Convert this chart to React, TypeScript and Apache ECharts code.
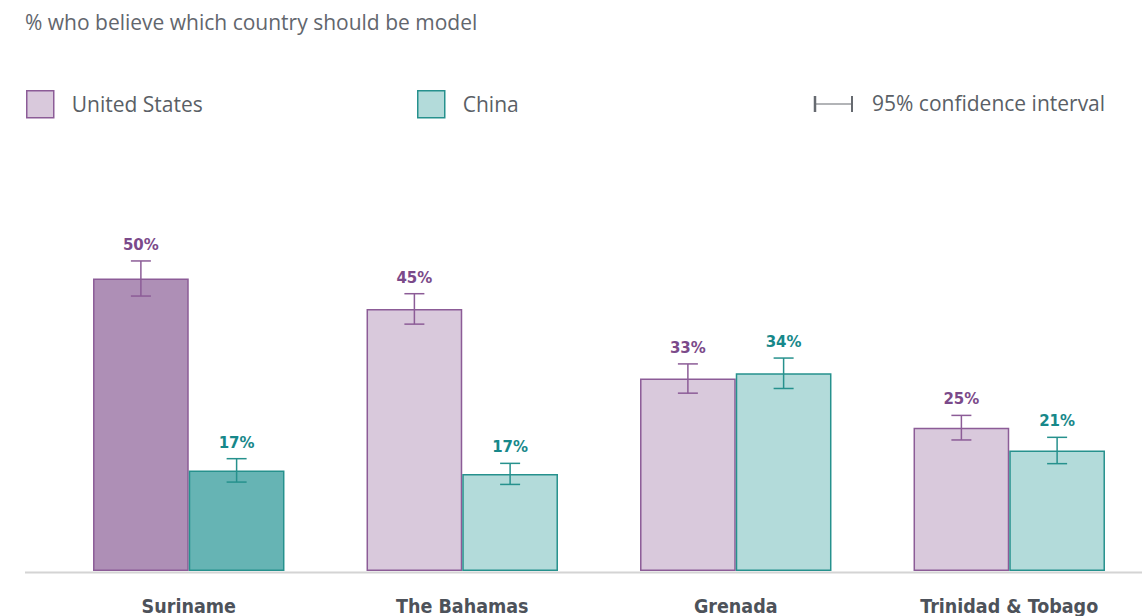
import React, { useEffect, useRef } from "react";
import * as echarts from "echarts";

const title = "% who believe which country should be model";
const categories = ["Suriname", "The Bahamas", "Grenada", "Trinidad & Tobago"];
const seriesNames = ["United States", "China"];
const usValues = [50.0, 44.8, 32.9, 24.5];
const chinaValues = [17.2, 16.6, 33.8, 20.6];
const usErrors = [3.0, 2.6, 2.5, 2.1];
const chinaErrors = [2.0, 1.8, 2.6, 2.25];
const highlightIndex = 0;
const ciLabel = "95% confidence interval";

const US_FILL = "#d9c9dc";
const US_FILL_HI = "#ae8fb6";
const US_LINE = "#8c5c97";
const US_TEXT = "#7b4a8a";
const CN_FILL = "#b3dbda";
const CN_FILL_HI = "#66b4b4";
const CN_LINE = "#26918d";
const CN_TEXT = "#17888a";
const GAP = 0.3;

function errorSeries(name: string, values: number[], errors: number[], side: number, line: string, text: string) {
  return {
    type: "custom",
    name: name + " CI",
    z: 5,
    data: values.map((v, i) => [i, v, errors[i]]),
    encode: { x: 0, y: 1 },
    renderItem: (params: any, api: any) => {
      const idx = api.value(0);
      const v = api.value(1);
      const e = api.value(2);
      const band = api.size([1, 0])[0];
      const off = (side * band * (1 - GAP)) / 4;
      const c = api.coord([idx, v]);
      const x = c[0] + off;
      const top = api.coord([idx, v + e])[1];
      const bot = api.coord([idx, v - e])[1];
      const cap = 10;
      const st = { stroke: line, lineWidth: 1.5 };
      return {
        type: "group",
        children: [
          { type: "line", shape: { x1: x, y1: top, x2: x, y2: bot }, style: st },
          { type: "line", shape: { x1: x - cap, y1: top, x2: x + cap, y2: top }, style: st },
          { type: "line", shape: { x1: x - cap, y1: bot, x2: x + cap, y2: bot }, style: st },
          {
            type: "text",
            style: {
              text: Math.round(v) + "%",
              x: x,
              y: top - 16,
              align: "center",
              verticalAlign: "middle",
              fill: text,
              font: "bold 15px 'DejaVu Sans', sans-serif",
            },
          },
        ],
      };
    },
  };
}

export default function App() {
  const ref = useRef<HTMLDivElement>(null);
  useEffect(() => {
    if (!ref.current) return;
    const chart = echarts.init(ref.current, undefined, { renderer: "svg" });
    const legendText = { color: "#5a5f66", fontSize: 21, fontFamily: "'Open Sans', sans-serif", padding: [0, 0, 0, 13] };
    chart.setOption({
      animation: false,
      title: {
        text: title,
        left: 25,
        top: 11,
        padding: 0,
        textStyle: { color: "#62666d", fontSize: 21, fontWeight: "normal", fontFamily: "'Open Sans', sans-serif" },
      },
      legend: [
        {
          left: 26,
          top: 90,
          padding: 0,
          itemWidth: 27,
          itemHeight: 27,
          icon: "rect",
          textStyle: legendText,
          data: [{ name: seriesNames[0], itemStyle: { color: US_FILL, borderColor: US_LINE, borderWidth: 1.5 } }],
        },
        {
          left: 417,
          top: 90,
          padding: 0,
          itemWidth: 27,
          itemHeight: 27,
          icon: "rect",
          textStyle: legendText,
          data: [{ name: seriesNames[1], itemStyle: { color: CN_FILL, borderColor: CN_LINE, borderWidth: 1.5 } }],
        },
      ],
      grid: { left: 52, right: 0, top: 220, bottom: 44.5 },
      xAxis: {
        type: "category",
        data: categories,
        axisLine: { show: false },
        axisTick: { show: false },
        axisLabel: {
          margin: 25,
          color: "#4d525a",
          fontSize: 19.5,
          fontWeight: "bold",
          fontFamily: "'Liberation Sans Narrow', 'DejaVu Sans Condensed', sans-serif",
        },
      },
      yAxis: { type: "value", min: 0, max: 60, show: false, splitLine: { show: false } },
      graphic: [
        { type: "line", z: 1, shape: { x1: 25, y1: 572.5, x2: 1142, y2: 572.5 }, style: { stroke: "#d4d4d4", lineWidth: 2 } },
        { type: "line", shape: { x1: 815, y1: 104, x2: 852, y2: 104 }, style: { stroke: "#666a70", lineWidth: 1.2 } },
        { type: "line", shape: { x1: 815, y1: 96, x2: 815, y2: 112 }, style: { stroke: "#666a70", lineWidth: 2.5 } },
        { type: "line", shape: { x1: 852, y1: 96, x2: 852, y2: 112 }, style: { stroke: "#666a70", lineWidth: 2 } },
        {
          type: "text",
          left: 872,
          top: 92.5,
          style: { text: ciLabel, fill: "#5a5f66", font: "21px 'Open Sans', sans-serif" },
        },
      ],
      series: [
        {
          type: "bar",
          name: seriesNames[0],
          barGap: 0,
          barCategoryGap: "30%",
          itemStyle: { color: US_FILL, borderColor: US_LINE, borderWidth: 1.5 },
          data: usValues.map((v, i) =>
            i === highlightIndex ? { value: v, itemStyle: { color: US_FILL_HI, borderColor: US_LINE } } : v
          ),
        },
        {
          type: "bar",
          name: seriesNames[1],
          barGap: 0,
          barCategoryGap: "30%",
          itemStyle: { color: CN_FILL, borderColor: CN_LINE, borderWidth: 1.5 },
          data: chinaValues.map((v, i) =>
            i === highlightIndex ? { value: v, itemStyle: { color: CN_FILL_HI, borderColor: CN_LINE } } : v
          ),
        },
        errorSeries(seriesNames[0], usValues, usErrors, -1, US_LINE, US_TEXT),
        errorSeries(seriesNames[1], chinaValues, chinaErrors, 1, CN_LINE, CN_TEXT),
      ],
    });
    return () => chart.dispose();
  }, []);
  return (
    <div style={{ position: "absolute", left: 0, top: 0, width: 1142, height: 616, overflow: "hidden" }}>
      <div ref={ref} style={{ width: 1146, height: 616 }} />
    </div>
  );
}
